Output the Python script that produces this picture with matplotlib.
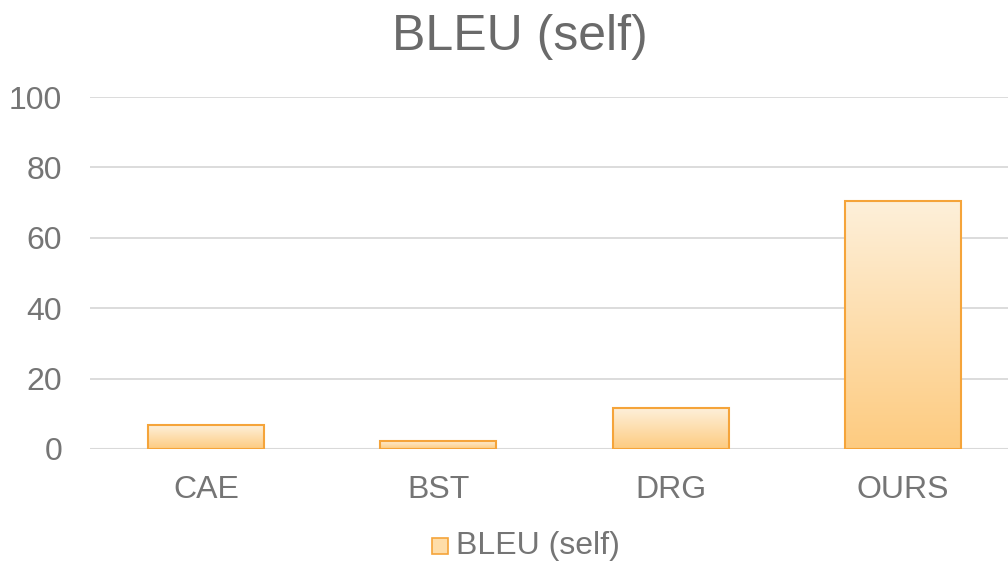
import matplotlib.pyplot as plt
import numpy as np
from matplotlib.colors import LinearSegmentedColormap
from matplotlib.patches import Rectangle

plt.rcParams['font.family'] = ['Liberation Sans', 'DejaVu Sans']

categories = ['CAE', 'BST', 'DRG', 'OURS']
bleu_self = [6.8, 2.4, 11.6, 70.5]

fig = plt.figure(figsize=(10.08, 5.62), dpi=100)
ax = fig.add_axes([90 / 1008, 113 / 562, 929 / 1008, 352 / 562])

# gradient from light cream at top to orange at bottom
cmap = LinearSegmentedColormap.from_list('bar', ['#FDCB80', '#FEF0DA'])
grad = np.linspace(0, 1, 256).reshape(-1, 1)

bars = ax.bar(range(len(categories)), bleu_self, width=0.5,
              facecolor='none', edgecolor='#F5A43A', linewidth=1.5, zorder=3)
for b in bars:
    x0, y0 = b.get_x(), b.get_y()
    w, h = b.get_width(), b.get_height()
    im = ax.imshow(grad, cmap=cmap, aspect='auto', origin='lower',
                   extent=[x0, x0 + w, y0, y0 + h], zorder=2)
    im.set_clip_path(b)

ax.set_xlim(-0.5, 3.5)
ax.set_ylim(0, 100)
ax.set_yticks(range(0, 101, 20))
ax.set_xticks(range(len(categories)))
ax.set_xticklabels(categories)
ax.yaxis.grid(True, color='#D9D9D9', linewidth=1.3, zorder=0)
for s in ax.spines.values():
    s.set_visible(False)
ax.axhline(0, color='#D9D9D9', linewidth=1.5, zorder=1)
ax.tick_params(axis='both', length=0, labelsize=23, labelcolor='#757575')
ax.tick_params(axis='x', pad=19)
ax.tick_params(axis='y', pad=20)

fig.text(520 / 1008, 1 - 37 / 562, 'BLEU (self)', ha='center', va='center',
         fontsize=36, color='#6A6A6A')

# legend
fig.patches.append(Rectangle((432 / 1008, 1 - 554 / 562), 16 / 1008, 16 / 562,
                             transform=fig.transFigure, facecolor='#FEDDA9',
                             edgecolor='#F5A43A', linewidth=1.2))
fig.text(456 / 1008, 1 - 546 / 562, 'BLEU (self)', ha='left', va='center',
         fontsize=23, color='#757575')

fig.savefig('out.png', dpi=100)
